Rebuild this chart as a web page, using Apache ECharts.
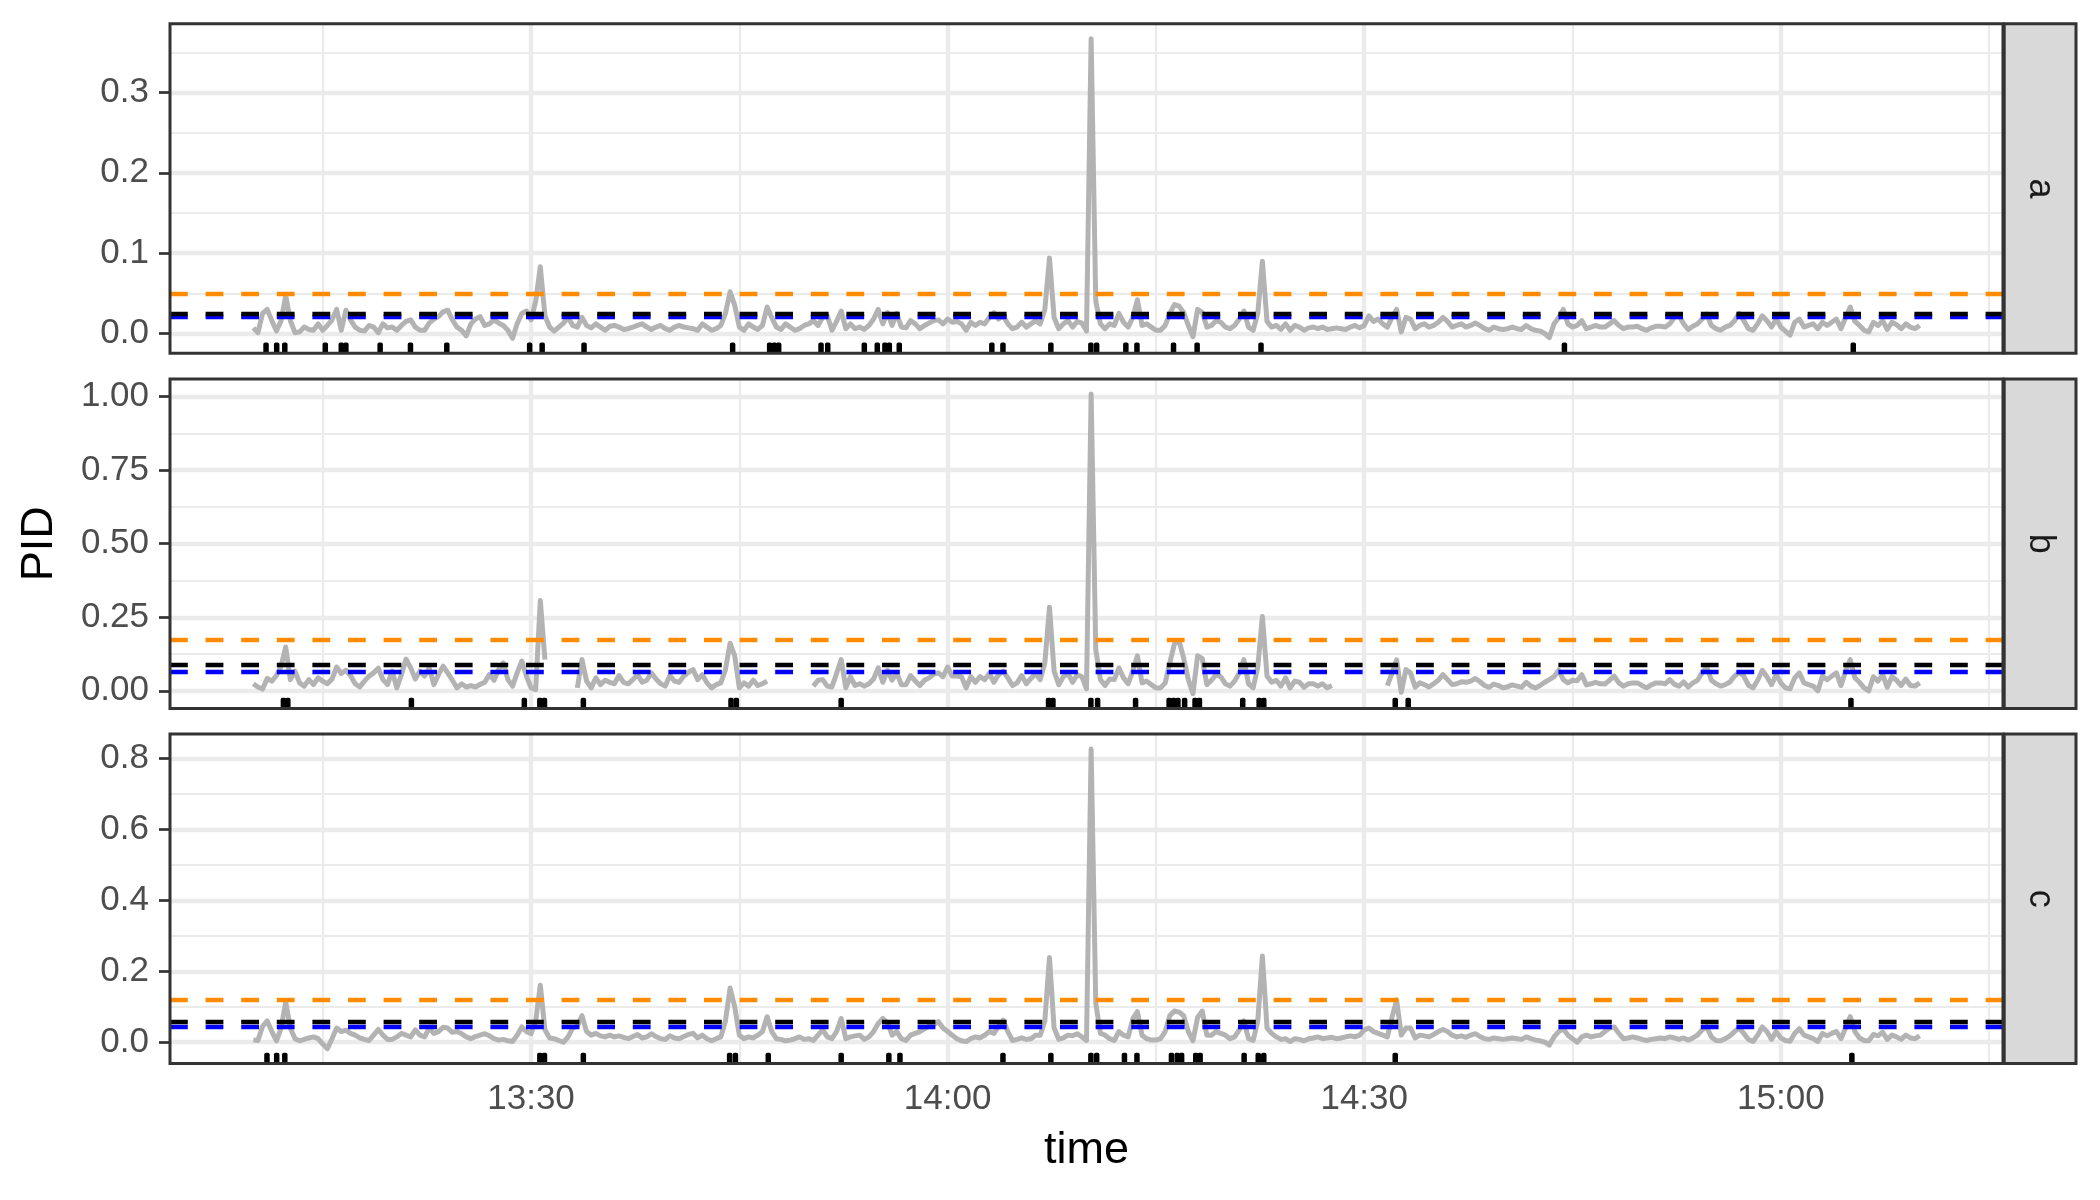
<!DOCTYPE html>
<html>
<head>
<meta charset="utf-8">
<script src="https://cdn.jsdelivr.net/npm/echarts@6/dist/echarts.min.js"></script>
<style>html,body{margin:0;padding:0;background:#fff}#chart{width:2100px;height:1200px}</style>
</head>
<body>
<div id="chart"></div>
<script>
// ---------------- data ----------------
const startClock = '13:10:00';   // first sample
const stepSeconds = 20;          // sampling step of the PID readings

const panelNames = ['a', 'b', 'c'];

const pidA = [
0.007,0.001,0.025,0.030,0.016,0.003,0.016,0.047,0.016,0.001,
0.002,0.008,0.005,0.004,0.012,0.004,0.010,0.017,0.030,0.004,
0.029,0.017,0.008,0.004,0.003,0.010,0.008,0.001,0.012,0.007,
0.008,0.004,0.010,0.015,0.017,0.008,0.004,0.004,0.013,0.018,
0.021,0.027,0.029,0.017,0.008,0.004,-0.003,0.012,0.018,0.021,
0.010,0.012,0.017,0.013,0.010,0.004,-0.006,0.012,0.025,0.028,
0.017,0.040,0.083,0.022,0.008,0.003,0.008,0.013,0.020,0.010,
0.008,0.020,0.010,0.007,0.012,0.008,0.004,0.009,0.010,0.008,
0.005,0.006,0.008,0.010,0.012,0.008,0.005,0.008,0.010,0.006,
0.004,0.008,0.010,0.008,0.007,0.006,0.004,0.012,0.008,0.004,
0.006,0.010,0.025,0.052,0.035,0.008,0.004,0.012,0.008,0.005,
0.010,0.033,0.020,0.008,0.005,0.012,0.008,0.004,0.006,0.010,
0.012,0.016,0.010,0.020,0.022,0.004,0.015,0.028,0.006,0.012,
0.006,0.008,0.005,0.010,0.018,0.030,0.012,0.026,0.010,0.025,
0.008,0.007,0.016,0.012,0.006,0.010,0.013,0.016,0.017,0.012,
0.018,0.014,0.015,0.012,0.004,0.014,0.010,0.014,0.012,0.020,
0.026,0.018,0.022,0.012,0.006,0.008,0.014,0.008,0.012,0.016,
0.012,0.030,0.094,0.020,0.006,0.012,0.016,0.008,0.015,0.013,
0.003,0.367,0.040,0.012,0.006,0.012,0.010,0.025,0.014,0.008,
0.020,0.042,0.010,0.012,0.008,0.004,0.004,0.010,0.025,0.036,
0.034,0.026,0.010,-0.004,0.030,0.026,0.008,0.010,0.016,0.014,
0.008,0.006,0.010,0.018,0.028,0.008,0.004,0.025,0.090,0.015,
0.008,0.010,0.005,0.012,0.004,0.010,0.008,0.004,0.007,0.008,
0.006,0.008,0.005,0.006,0.007,0.006,0.005,0.008,0.010,0.007,
0.010,0.022,0.015,0.018,0.012,0.008,0.020,0.030,0.002,0.020,
0.018,0.006,0.010,0.012,0.008,0.010,0.014,0.020,0.015,0.008,
0.010,0.012,0.008,0.010,0.013,0.010,0.006,0.004,0.008,0.006,
0.005,0.006,0.008,0.006,0.005,0.010,0.006,0.004,0.003,0.000,
-0.005,0.012,0.020,0.030,0.012,0.008,0.010,0.016,0.006,0.008,
0.010,0.008,0.008,0.012,0.016,0.010,0.006,0.008,0.008,0.009,
0.006,0.004,0.007,0.009,0.009,0.008,0.012,0.020,0.022,0.012,
0.005,0.009,0.012,0.018,0.024,0.010,0.006,0.004,0.008,0.010,
0.016,0.025,0.016,0.006,0.004,0.012,0.022,0.016,0.008,0.018,
0.008,0.003,-0.002,0.014,0.018,0.008,0.010,0.012,0.006,0.014,
0.010,0.014,0.018,0.006,0.020,0.033,0.015,0.010,0.004,0.002,
0.014,0.010,0.016,0.005,0.014,0.011,0.006,0.012,0.008,0.006,0.010
];

const pidB = [
0.024,0.013,0.006,0.042,0.033,0.052,0.084,0.149,0.038,0.067,
0.027,0.016,0.038,0.021,0.044,0.033,0.024,0.040,0.081,0.059,
0.070,0.052,0.024,0.013,0.033,0.050,0.061,0.077,0.038,0.021,
0.067,0.010,0.055,0.108,0.078,0.040,0.067,0.050,0.078,0.021,
0.055,0.084,0.061,0.036,0.010,0.024,0.013,0.018,0.013,0.022,
0.029,0.055,0.036,0.072,0.095,0.038,0.016,0.061,0.101,0.050,
0.010,0.004,0.307,0.106,null,null,null,null,null,null,
0.010,0.106,0.033,0.010,0.044,0.021,0.036,0.029,0.024,0.052,
0.029,0.024,0.038,0.055,0.029,0.036,0.061,0.040,0.024,0.016,
0.052,0.033,0.029,0.050,0.063,0.072,0.038,0.055,0.027,0.010,
0.021,0.027,0.072,0.162,0.119,0.010,0.027,0.016,0.036,0.018,
0.024,0.033,null,null,null,null,null,null,null,null,
null,0.016,0.036,0.038,0.016,0.013,0.059,0.106,0.010,0.048,
0.018,0.024,0.016,0.024,0.040,0.078,0.029,0.070,0.036,0.061,
0.021,0.021,0.052,0.033,0.018,0.036,0.044,0.057,0.061,0.048,
0.081,0.050,0.050,0.048,0.010,0.048,0.029,0.048,0.038,0.059,
0.029,0.055,0.067,0.044,0.018,0.027,0.052,0.024,0.042,0.059,
0.038,0.095,0.284,0.067,0.021,0.048,0.059,0.029,0.055,0.048,
0.007,1.009,0.140,0.038,0.018,0.040,0.038,0.078,0.044,0.024,
0.067,0.119,0.027,0.033,0.021,0.010,0.010,0.027,0.095,0.160,
0.170,0.110,0.038,-0.0095,0.119,0.110,0.021,0.036,0.055,0.048,
0.024,0.016,0.033,0.061,0.106,0.024,0.010,0.080,0.253,0.050,
0.029,0.036,0.016,0.044,0.010,0.033,0.029,0.012,0.024,0.024,
0.016,0.024,0.010,0.018,null,null,null,null,null,null,
null,null,null,null,null,0.018,0.060,0.105,-0.005,0.072,
0.061,0.012,0.027,0.021,0.013,0.024,0.036,0.055,0.038,0.021,
0.024,0.031,0.029,0.033,0.042,0.031,0.018,0.012,0.023,0.018,
0.010,0.014,0.020,0.016,0.012,0.029,0.016,0.010,0.018,0.029,
0.038,0.048,0.070,0.038,0.027,0.036,0.034,0.055,0.020,0.024,
0.029,0.024,0.023,0.036,0.050,0.027,0.016,0.024,0.027,0.027,
0.018,0.010,0.020,0.027,0.027,0.024,0.038,0.022,0.016,0.030,
0.013,0.027,0.036,0.061,0.081,0.036,0.024,0.016,0.021,0.030,
0.050,0.063,0.050,0.019,0.010,0.036,0.070,0.048,0.021,0.055,
0.027,0.010,0.007,0.044,0.061,0.027,0.021,0.016,0.000,0.050,
0.038,0.050,0.061,0.018,0.067,0.106,0.044,0.029,0.010,0.000,
0.048,0.033,0.055,0.012,0.048,0.036,0.018,0.040,0.018,0.016,0.027
];

const pidC = [
0.006,0.005,0.045,0.060,0.030,0.004,0.040,0.114,0.040,0.010,
0.004,0.008,0.012,0.015,0.010,-0.005,-0.018,0.010,0.040,0.030,
0.034,0.025,0.020,0.012,0.008,0.005,0.020,0.036,0.020,0.008,
0.008,0.015,0.025,0.020,0.015,0.035,0.020,0.015,0.040,0.025,
0.030,0.042,0.040,0.028,0.030,0.024,0.015,0.010,0.016,0.020,
0.024,0.018,0.010,0.006,0.008,0.004,0.002,0.020,0.043,0.030,
0.024,0.060,0.161,0.035,0.012,0.010,0.005,0.000,0.015,0.040,
0.045,0.075,0.030,0.020,0.025,0.018,0.015,0.020,0.015,0.018,
0.014,0.010,0.016,0.022,0.012,0.015,0.024,0.016,0.010,0.008,
0.018,0.012,0.010,0.016,0.022,0.025,0.012,0.020,0.010,0.004,
0.010,0.015,0.060,0.153,0.100,0.020,0.010,0.015,0.012,0.020,
0.030,0.072,0.030,0.010,0.008,0.004,0.006,0.010,0.015,0.008,
0.010,0.005,0.020,0.036,0.015,0.010,0.030,0.067,0.010,0.015,
0.018,0.020,0.008,0.015,0.030,0.053,0.067,0.055,0.020,0.030,
0.010,0.005,0.020,0.025,0.030,0.038,0.045,0.050,0.058,0.040,
0.030,0.020,0.010,0.004,0.002,0.010,0.015,0.012,0.020,0.030,
0.025,0.045,0.062,0.030,0.005,0.008,0.012,0.008,0.010,0.020,
0.020,0.060,0.239,0.040,0.008,0.012,0.020,0.018,0.024,0.015,
0.005,0.827,0.110,0.025,0.020,0.010,0.005,0.030,0.020,0.015,
0.066,0.086,0.020,0.010,0.006,0.006,0.010,0.030,0.075,0.088,
0.085,0.075,0.030,0.004,0.070,0.088,0.020,0.020,0.030,0.025,
0.020,0.010,0.015,0.035,0.060,0.010,0.005,0.060,0.243,0.040,
0.025,0.015,0.008,0.010,0.002,0.010,0.008,0.004,0.010,0.012,
0.015,0.010,0.012,0.014,0.010,0.012,0.015,0.018,0.015,0.020,
0.035,0.040,0.030,0.025,0.020,0.015,0.070,0.119,0.020,0.040,
0.040,0.012,0.020,0.018,0.015,0.022,0.030,0.036,0.030,0.020,
0.015,0.018,0.014,0.020,0.024,0.016,0.010,0.008,0.012,0.010,
0.008,0.010,0.012,0.010,0.008,0.015,0.010,0.006,0.004,0.000,
-0.008,0.015,0.030,0.038,0.020,0.010,0.000,0.015,0.020,0.015,
0.018,0.020,0.030,0.040,0.043,0.025,0.010,0.012,0.015,0.012,
0.008,0.005,0.008,0.010,0.012,0.010,0.015,0.012,0.008,0.012,
0.006,0.012,0.020,0.035,0.043,0.015,0.005,0.004,0.010,0.018,
0.030,0.040,0.025,0.008,0.002,0.020,0.043,0.030,0.008,0.030,
0.012,0.005,0.003,0.025,0.038,0.020,0.015,0.010,0.002,0.025,
0.018,0.025,0.030,0.010,0.040,0.072,0.030,0.012,0.005,0.004,
0.022,0.018,0.028,0.008,0.020,0.015,0.008,0.020,0.012,0.010,0.018
];

// horizontal reference levels per panel (a, b, c)
const orangeLevels = [0.0498, 0.175, 0.121];
const blackLevels  = [0.0240, 0.090, 0.0565];
const blueLevels   = [0.0204, 0.0655, 0.043];

// rug (event) times per panel
const rugA = ['13:10:55','13:11:41','13:12:16','13:15:11','13:16:20','13:16:40','13:19:08','13:21:19','13:23:56',
  '13:29:54','13:30:48','13:33:49','13:44:31','13:47:11','13:47:31','13:47:50','13:50:53','13:51:22','13:54:00',
  '13:54:56','13:55:29','13:55:48','13:56:31','14:03:11','14:03:59','14:07:26','14:10:19','14:10:44','14:12:50',
  '14:13:38','14:16:16','14:17:58','14:22:34','14:44:25','15:05:13'];
const rugB = ['13:12:10','13:12:29','13:21:23','13:29:31','13:30:38','13:30:58','13:33:46','13:44:24','13:44:47',
  '13:52:20','14:07:16','14:07:35','14:10:19','14:10:48','14:13:32','14:15:57','14:16:16','14:16:35','14:17:04',
  '14:17:49','14:18:08','14:21:15','14:22:26','14:22:46','14:32:14','14:33:10','15:05:03'];
const rugC = ['13:10:59','13:11:41','13:12:16','13:30:38','13:30:58','13:33:46','13:44:18','13:44:43','13:47:05',
  '13:52:20','13:55:46','13:56:34','14:03:59','14:07:26','14:10:19','14:10:44','14:12:44','14:13:38','14:16:07',
  '14:16:32','14:16:51','14:17:52','14:18:11','14:21:21','14:22:22','14:22:46','14:32:14','15:05:07'];

// axes
const xTickLabels = ['13:30', '14:00', '14:30', '15:00'];
const xMinorBreaks = ['13:15', '13:45', '14:15', '14:45', '15:15'];
const yTicksA = [0, 0.1, 0.2, 0.3];            const yLabelsA = ['0.0', '0.1', '0.2', '0.3'];
const yTicksB = [0, 0.25, 0.5, 0.75, 1.0];     const yLabelsB = ['0.00', '0.25', '0.50', '0.75', '1.00'];
const yTicksC = [0, 0.2, 0.4, 0.6, 0.8];       const yLabelsC = ['0.0', '0.2', '0.4', '0.6', '0.8'];
const yMinorA = [0.05, 0.15, 0.25, 0.35];
const yMinorB = [0.125, 0.375, 0.625, 0.875];
const yMinorC = [0.1, 0.3, 0.5, 0.7];
const xTitle = 'time';
const yTitle = 'PID';

// ---------------- chart ----------------
const FONT = '"Liberation Sans", Arial, Helvetica, sans-serif';
const toMin = s => { const p = s.split(':').map(Number); return p[0] * 60 + p[1] + (p[2] || 0) / 60; };
const t0 = toMin(startClock);
const times = pidA.map((_, i) => t0 + i * stepSeconds / 60);
const xLo = times[0], xHi = times[times.length - 1];
const xPad = 0.05 * (xHi - xLo);
const xMin = xLo - xPad, xMax = xHi + xPad;
const xTickVals = xTickLabels.map(toMin);
const xMinorVals = xMinorBreaks.map(toMin);

const panels = [
  { name: panelNames[0], values: pidA, rug: rugA, ticks: yTicksA, labels: yLabelsA, minor: yMinorA },
  { name: panelNames[1], values: pidB, rug: rugB, ticks: yTicksB, labels: yLabelsB, minor: yMinorB },
  { name: panelNames[2], values: pidC, rug: rugC, ticks: yTicksC, labels: yLabelsC, minor: yMinorC }
];

const L = 170, W = 1833, H = 329.6, TOPS = [23.7, 379.0, 734.0];
const STRIP_X = 2004.2, STRIP_W = 71.8;

const grids = [], xAxes = [], yAxes = [], series = [], graphics = [];
const tickStyle = { color: '#333333', width: 2.7 };
const labelText = { fontSize: 35, color: '#4D4D4D', fontFamily: FONT };

panels.forEach((p, k) => {
  const vals = p.values.filter(v => v !== null);
  const lo = Math.min(...vals), hi = Math.max(...vals), pad = 0.05 * (hi - lo);
  const yMin = lo - pad, yMax = hi + pad;

  grids.push({ left: L, top: TOPS[k], width: W, height: H, show: false });

  const last = k === panels.length - 1;
  xAxes.push({
    type: 'value', gridIndex: k, min: xMin, max: xMax,
    axisLine: { show: false }, splitLine: { show: false },
    axisTick: { show: last, customValues: xTickVals, length: 11, lineStyle: tickStyle },
    axisLabel: Object.assign({ show: last, customValues: xTickVals, margin: 18,
      formatter: v => { const j = xTickVals.findIndex(q => Math.abs(q - v) < 1e-6); return j >= 0 ? xTickLabels[j] : ''; } }, labelText)
  });
  yAxes.push({
    type: 'value', gridIndex: k, min: yMin, max: yMax,
    axisLine: { show: false }, splitLine: { show: false },
    axisTick: { show: true, customValues: p.ticks, length: 11, lineStyle: tickStyle },
    axisLabel: Object.assign({ show: true, customValues: p.ticks, margin: 21,
      formatter: v => { const j = p.ticks.findIndex(q => Math.abs(q - v) < 1e-9); return j >= 0 ? p.labels[j] : ''; } }, labelText)
  });

  // grid lines
  const gl = [];
  p.minor.forEach(v => gl.push({ yAxis: v, lineStyle: { color: '#EBEBEB', width: 2.2, type: 'solid' } }));
  xMinorVals.forEach(v => gl.push({ xAxis: v, lineStyle: { color: '#EBEBEB', width: 2.2, type: 'solid' } }));
  p.ticks.forEach(v => gl.push({ yAxis: v, lineStyle: { color: '#EBEBEB', width: 4.4, type: 'solid' } }));
  xTickVals.forEach(v => gl.push({ xAxis: v, lineStyle: { color: '#EBEBEB', width: 4.4, type: 'solid' } }));
  series.push({
    type: 'line', xAxisIndex: k, yAxisIndex: k, data: [], silent: true, z: 1,
    markLine: { silent: true, z: 1, precision: 10, symbol: ['none', 'none'], label: { show: false }, animation: false, data: gl }
  });

  // PID line
  series.push({
    type: 'line', name: p.name, xAxisIndex: k, yAxisIndex: k, z: 2, silent: true,
    data: times.map((t, i) => [t, p.values[i]]),
    showSymbol: false, connectNulls: false, animation: false,
    lineStyle: { color: '#B3B3B3', width: 5, join: 'round' }
  });

  // dashed levels (orange, blue, then black on top)
  [['#FF8C00', orangeLevels[k]], ['#0000FF', blueLevels[k]], ['#000000', blackLevels[k]]].forEach(([col, lvl], j) => {
    series.push({
      type: 'line', xAxisIndex: k, yAxisIndex: k, data: [], silent: true, z: 3 + j,
      markLine: { silent: true, z: 3 + j, precision: 10, symbol: ['none', 'none'], label: { show: false }, animation: false,
        data: [{ yAxis: lvl }], lineStyle: { color: col, width: 4.4, type: [17.8, 17.8], cap: 'butt' } }
    });
  });

  // rug
  series.push({
    type: 'custom', xAxisIndex: k, yAxisIndex: k, z: 7, silent: true, animation: false,
    data: p.rug.map(s => [toMin(s), yMin]),
    encode: { x: 0, y: 1 },
    renderItem: (params, api) => {
      const x = api.value(0);
      const b = api.coord([x, yMin]);
      const t = api.coord([x, yMin + 0.03 * (yMax - yMin)]);
      return { type: 'rect', shape: { x: b[0] - 2.75, y: t[1] - 1, width: 5.5, height: b[1] - t[1] + 1, r: 1.8 },
        style: { fill: '#000000' } };
    }
  });

  // panel border
  graphics.push({ type: 'rect', z: 100, silent: true, shape: { x: L, y: TOPS[k], width: W, height: H },
    style: { fill: 'none', stroke: '#333333', lineWidth: 3 } });
  // strip
  graphics.push({ type: 'rect', z: 100, silent: true, shape: { x: STRIP_X, y: TOPS[k], width: STRIP_W, height: H },
    style: { fill: '#D9D9D9', stroke: '#333333', lineWidth: 3 } });
  graphics.push({ type: 'text', z: 101, silent: true, x: STRIP_X + STRIP_W / 2 - 0.5, y: TOPS[k] + H / 2, rotation: -Math.PI / 2,
    style: { text: p.name, fontSize: 36, fontFamily: FONT, fill: '#1A1A1A', align: 'center', verticalAlign: 'middle',
      textAlign: 'center', textVerticalAlign: 'middle' } });
});

graphics.push({ type: 'text', z: 101, silent: true, x: L + W / 2, y: 1151,
  style: { text: xTitle, fontSize: 45, fontFamily: FONT, fill: '#000000', align: 'center', verticalAlign: 'middle',
    textAlign: 'center', textVerticalAlign: 'middle' } });
graphics.push({ type: 'text', z: 101, silent: true, x: 40, y: (TOPS[0] + TOPS[2] + H) / 2, rotation: Math.PI / 2,
  style: { text: yTitle, fontSize: 45, fontFamily: FONT, fill: '#000000', align: 'center', verticalAlign: 'middle',
    textAlign: 'center', textVerticalAlign: 'middle' } });

const chart = echarts.init(document.getElementById('chart'), null, { renderer: 'canvas', width: 2100, height: 1200 });
chart.setOption({
  backgroundColor: '#FFFFFF',
  animation: false,
  grid: grids, xAxis: xAxes, yAxis: yAxes, series: series, graphic: graphics
});
</script>
</body>
</html>
